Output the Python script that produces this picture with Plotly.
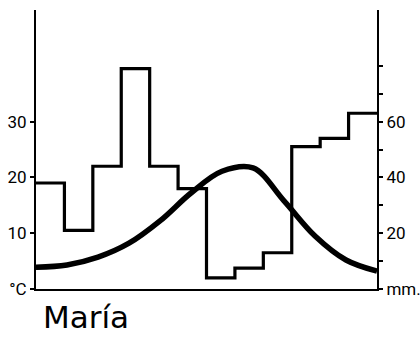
import plotly.graph_objects as go

# Monthly climate data for María
months = ["E", "F", "M", "A", "M", "J", "J", "A", "S", "O", "N", "D"]
precip_mm = [38, 21, 44, 79, 44, 36, 4, 7.5, 13, 51, 54, 63]
temp_c = [3.9, 4.3, 5.7, 8.2, 12.2, 17.2, 21.1, 21.7, 15.8, 9.5, 5.2, 3.2]

temp_ticks = [0, 10, 20, 30]
temp_labels = ["°C", "10", "20", "30"]
precip_ticks = [0, 10, 20, 30, 40, 50, 60, 70, 80]
precip_labels = ["mm.", "", "20", "", "40", "", "60", "", ""]

station = "María"

ink = "black"
tick_font = dict(family="Roboto", size=17, color=ink)
n = len(months)

fig = go.Figure()

# Precipitation as monthly steps on the right axis (month boundaries 0..12)
step_x = list(range(n + 1))
step_y = precip_mm + [precip_mm[-1]]
fig.add_trace(go.Scatter(
    x=step_x, y=step_y, yaxis="y2",
    mode="lines", line=dict(color=ink, width=3.2, shape="hv"),
    hoverinfo="skip", showlegend=False,
))

# Temperature as a smooth curve on the left axis, spread across the full year
temp_x = [i * n / (n - 1) for i in range(n)]
fig.add_trace(go.Scatter(
    x=temp_x, y=temp_c, yaxis="y",
    mode="lines", line=dict(color=ink, width=5.5, shape="spline", smoothing=1.0),
    hoverinfo="skip", showlegend=False,
))

fig.update_layout(
    width=420, height=338,
    margin=dict(l=36, r=43, t=10, b=49, autoexpand=False),
    paper_bgcolor="white", plot_bgcolor="white",
    xaxis=dict(
        range=[0, n], showgrid=False, zeroline=False, showticklabels=False,
        ticks="", showline=True, linecolor=ink, linewidth=2, fixedrange=True,
        automargin=False,
    ),
    yaxis=dict(
        range=[0, 50], showgrid=False, zeroline=False,
        showline=True, linecolor=ink, linewidth=2,
        tickmode="array", tickvals=temp_ticks, ticktext=temp_labels,
        ticks="outside", ticklen=4, tickwidth=2, tickcolor=ink,
        tickfont=tick_font, fixedrange=True, automargin=False,
    ),
    yaxis2=dict(
        range=[0, 100], overlaying="y", side="right", anchor="x",
        showgrid=False, zeroline=False,
        showline=True, linecolor=ink, linewidth=2,
        tickmode="array", tickvals=precip_ticks, ticktext=precip_labels,
        ticks="outside", ticklen=4, tickwidth=2, tickcolor=ink,
        tickfont=tick_font, fixedrange=True, automargin=False,
    ),
    annotations=[dict(
        text=station, xref="paper", yref="paper", x=0.015, y=-0.03,
        xanchor="left", yanchor="top", showarrow=False,
        font=dict(family="DejaVu Sans", size=31, color=ink),
    )],
)

fig.write_html("out.html")
